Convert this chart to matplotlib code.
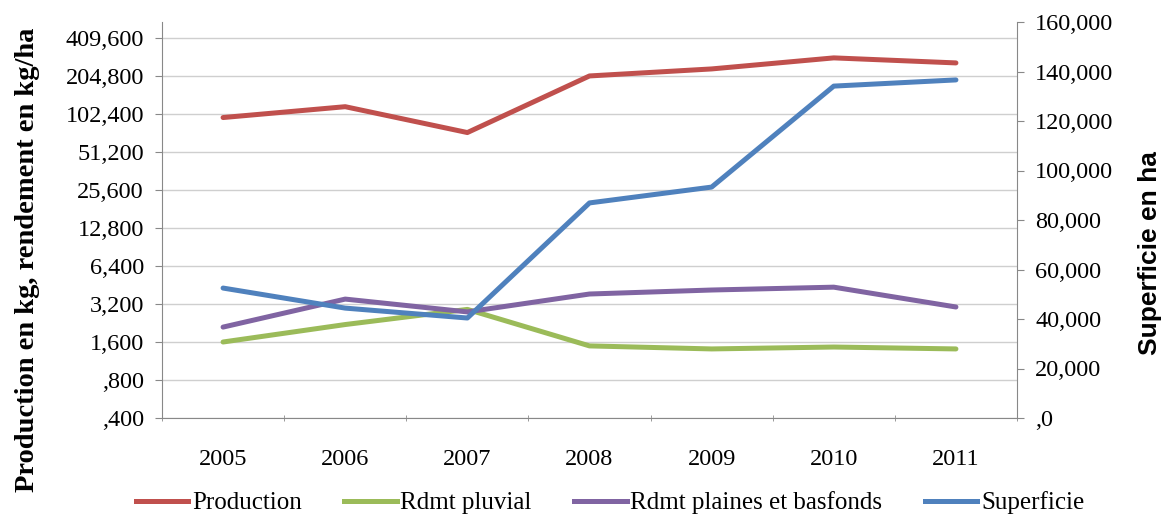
import numpy as np
import matplotlib
matplotlib.use('Agg')
from matplotlib import pyplot as plt
from matplotlib.lines import Line2D

# data
years = ['2005', '2006', '2007', '2008', '2009', '2010', '2011']
production = [96000, 117000, 73000, 205000, 233000, 285000, 260000]
rdmt_pluvial = [1600, 2200, 2900, 1490, 1410, 1460, 1410]
rdmt_plaines = [2100, 3500, 2770, 3840, 4130, 4350, 3030]
superficie = [52500, 44400, 40400, 86900, 93300, 134100, 136600]

left_ticks = [400 * 2 ** k for k in range(11)]
left_labels = [',400', ',800', '1,600', '3,200', '6,400', '12,800', '25,600',
               '51,200', '102,400', '204,800', '409,600']
right_ticks = [0, 20000, 40000, 60000, 80000, 100000, 120000, 140000, 160000]
right_labels = [',0', '20,000', '40,000', '60,000', '80,000', '100,000',
                '120,000', '140,000', '160,000']

red = '#C0504D'
green = '#9BBB59'
purple = '#8064A2'
blue = '#4F81BD'

plt.rcParams['font.family'] = ['Liberation Serif', 'DejaVu Serif']

W, H = 1165, 515
fig = plt.figure(figsize=(W / 100, H / 100), dpi=100)
x0, x1, y0, y1 = 162, 1017, 22, 418
ax = fig.add_axes([x0 / W, 1 - y1 / H, (x1 - x0) / W, (y1 - y0) / H])

x = np.arange(len(years))
ax.set_yscale('log', base=2)
ax.set_ylim(400, 400 * 2 ** (396 / 38.0))
ax.set_xlim(-0.5, len(years) - 0.5)

lw = 3.6
ax.plot(x, production, color=red, lw=lw, solid_capstyle='round')
ax.plot(x, rdmt_pluvial, color=green, lw=lw, solid_capstyle='round')
ax.plot(x, rdmt_plaines, color=purple, lw=lw, solid_capstyle='round')

ax.set_yticks(left_ticks)
ax.set_yticklabels(left_labels)
ax.yaxis.set_minor_locator(matplotlib.ticker.NullLocator())
ax.grid(axis='y', color='#cfcfcf', lw=1.0)
ax.set_axisbelow(True)

ax.set_xticks(x)
ax.set_xticklabels(years)
ax.set_xticks(np.arange(-0.5, len(years)), minor=True)
ax.tick_params(axis='x', which='major', length=0, labelsize=17.5, pad=22)
ax.tick_params(axis='x', which='minor', length=5, direction='inout', color='#888888')
ax.tick_params(axis='y', length=5, color='#888888', labelsize=17.5, pad=8)

for s in ['left', 'bottom']:
    ax.spines[s].set_color('#888888')
ax.spines['top'].set_visible(False)
ax.spines['right'].set_visible(False)

ax2 = ax.twinx()
ax2.set_ylim(0, 160000)
ax2.plot(x, superficie, color=blue, lw=lw, solid_capstyle='round')
ax2.set_yticks(right_ticks)
ax2.set_yticklabels(right_labels)
ax2.tick_params(axis='y', length=5, color='#888888', labelsize=17.5, pad=8)
ax2.spines['right'].set_color('#888888')
for s in ['left', 'top', 'bottom']:
    ax2.spines[s].set_visible(False)

# axis titles
fig.text(28 / W, 1 - 260 / H, 'Production en kg, rendement en kg/ha', rotation=90,
         ha='center', va='center', fontsize=20.5, fontweight='bold')
fig.text(1150 / W, 1 - 253 / H, 'Superficie en ha', rotation=90,
         ha='center', va='center', fontsize=19, fontweight='bold',
         family='Liberation Sans')

handles = [Line2D([], [], color=c, lw=lw) for c in [red, green, purple, blue]]
names = ['Production', 'Rdmt pluvial', 'Rdmt plaines et basfonds', 'Superficie']
fig.legend(handles, names, loc='center', bbox_to_anchor=(610 / W, 1 - 503 / H),
           ncol=4, frameon=False, fontsize=18, handlelength=2.1,
           handletextpad=0.15, columnspacing=1.7)

fig.savefig('out.png', dpi=100)
